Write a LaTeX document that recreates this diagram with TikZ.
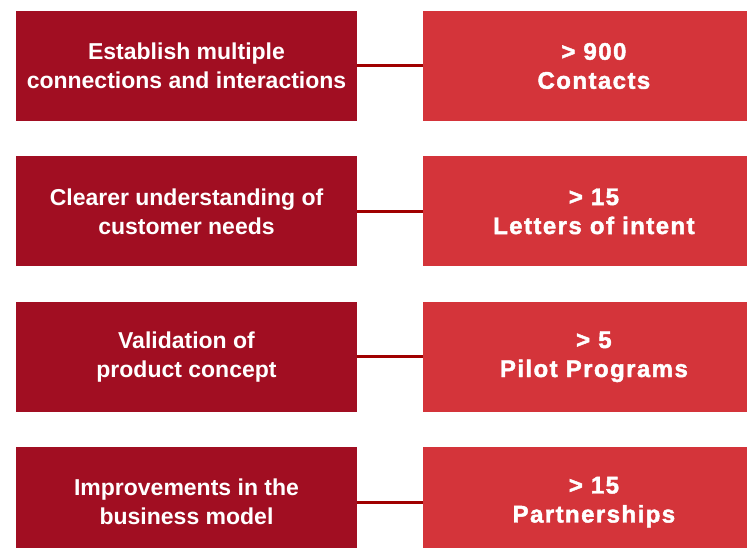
\documentclass[tikz,border=0pt]{standalone}
\usepackage{fontspec}
\setmainfont{Liberation Sans}
\newfontfamily\resultfont[LetterSpace=6,BoldFeatures={FakeBold=1.8}]{Liberation Sans}
\usetikzlibrary{positioning}
\definecolor{goalred}{HTML}{A10E22}
\definecolor{resultred}{HTML}{D4343A}
\definecolor{linkred}{HTML}{A00000}

\begin{document}
\begin{tikzpicture}[
                node distance=35pt and 66pt,
                goal/.style={fill=goalred,text=white,minimum width=341pt,minimum height=110pt,
                    inner sep=0pt,align=center,font=\bfseries\fontsize{23}{29}\selectfont},
                result/.style={goal,fill=resultred,font=\resultfont\bfseries\fontsize{24}{29}\selectfont},
                link/.style={draw=linkred,line width=3pt}
            ]
                \useasboundingbox (0,0) rectangle (747pt,-548pt);
                \clip (0,0) rectangle (747pt,-548pt);
                \node[goal] (G1) at (186.5pt,-66pt) {Establish multiple\\connections and interactions};
                \node[goal] (G2) [below=of G1] {Clearer understanding of\\customer needs};
                \node[goal] (G3) [below=of G2] {Validation of\\product concept};
                \node[goal] (G4) [below=of G3] {Improvements in the\\business model};
                \node[result] (R1) [right=of G1] {> 900\\Contacts};
                \node[result] (R2) [right=of G2] {> 15\\Letters of intent};
                \node[result] (R3) [right=of G3] {> 5\\Pilot Programs};
                \node[result] (R4) [right=of G4] {> 15\\Partnerships};
                \foreach \i in {1,...,4}
                    \draw[link] (G\i) -- (R\i);
            \end{tikzpicture}
\end{document}
